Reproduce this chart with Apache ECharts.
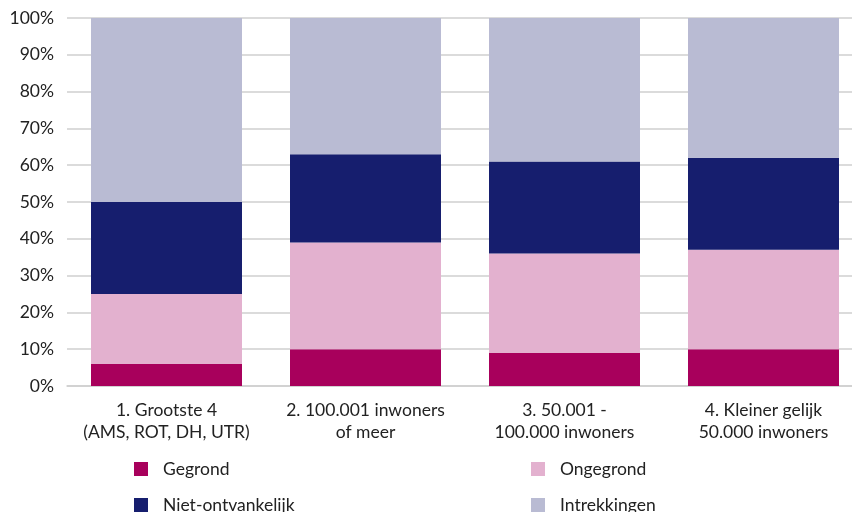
<!DOCTYPE html>
<html>
<head>
<meta charset="utf-8">
<script src="https://cdn.jsdelivr.net/npm/echarts@6/dist/echarts.min.js"></script>
<style>
  html, body { margin: 0; padding: 0; background: #fff; }
  #chart { width: 852px; height: 512px; }
</style>
</head>
<body>
<div id="chart"></div>
<script>
// categories and values (percentages)
const categories = [
    '1. Grootste 4\n(AMS, ROT, DH, UTR)',
    '2. 100.001 inwoners\nof meer',
    '3. 50.001 -\n100.000 inwoners',
    '4. Kleiner gelijk\n50.000 inwoners'
];
const gegrond = [6, 10, 9, 10];
const ongegrond = [19, 29, 27, 27];
const nietOntvankelijk = [25, 24, 25, 25];
const intrekkingen = [50, 37, 39, 38];

const names = ['Gegrond', 'Ongegrond', 'Niet-ontvankelijk', 'Intrekkingen'];
const colors = ['#a8005c', '#e3b1cf', '#161e6e', '#b9bbd3'];
const values = [gegrond, ongegrond, nietOntvankelijk, intrekkingen];

const font = 'Lato, "Noto Sans", sans-serif';
const fs = 17.5;
const chart = echarts.init(document.getElementById('chart'), null, { renderer: 'canvas' });

// one legend per item so they sit in two columns
const legendPos = [
    { left: 129, top: 455 },
    { left: 526, top: 455 },
    { left: 129, top: 491 },
    { left: 526, top: 491 }
];

const option = {
    animation: false,
    color: colors,
    textStyle: { fontFamily: font },
    grid: {
        left: 67,
        right: -11,
        top: 18,
        bottom: 126,
        containLabel: false,
        outerBoundsMode: 'none'
    },
    legend: names.map((n, i) => ({
        data: [n],
        left: legendPos[i].left,
        top: legendPos[i].top,
        icon: 'rect',
        itemWidth: 14,
        itemHeight: 14,
        itemGap: 0,
        textStyle: { fontFamily: font, fontSize: fs, color: '#222', padding: [0, 0, 0, 10] },
        selectedMode: false
    })),
    xAxis: {
        type: 'category',
        data: categories,
        axisTick: { show: false },
        axisLine: { lineStyle: { color: '#cfcfcf', width: 1.5 } },
        axisLabel: {
            fontFamily: font,
            fontSize: fs,
            color: '#222',
            lineHeight: 22,
            margin: 13,
            interval: 0
        }
    },
    yAxis: {
        type: 'value',
        min: 0,
        max: 100,
        interval: 10,
        axisLine: { show: false },
        axisTick: { show: false },
        splitLine: { lineStyle: { color: '#cfcfcf', width: 1.5 } },
        axisLabel: {
            fontFamily: font,
            fontSize: fs,
            color: '#222',
            margin: 13,
            formatter: '{value}%'
        }
    },
    series: names.map((n, i) => ({
        name: n,
        type: 'bar',
        stack: 'total',
        barWidth: 151,
        data: values[i],
        itemStyle: { color: colors[i] }
    }))
};

chart.setOption(option);
</script>
</body>
</html>
